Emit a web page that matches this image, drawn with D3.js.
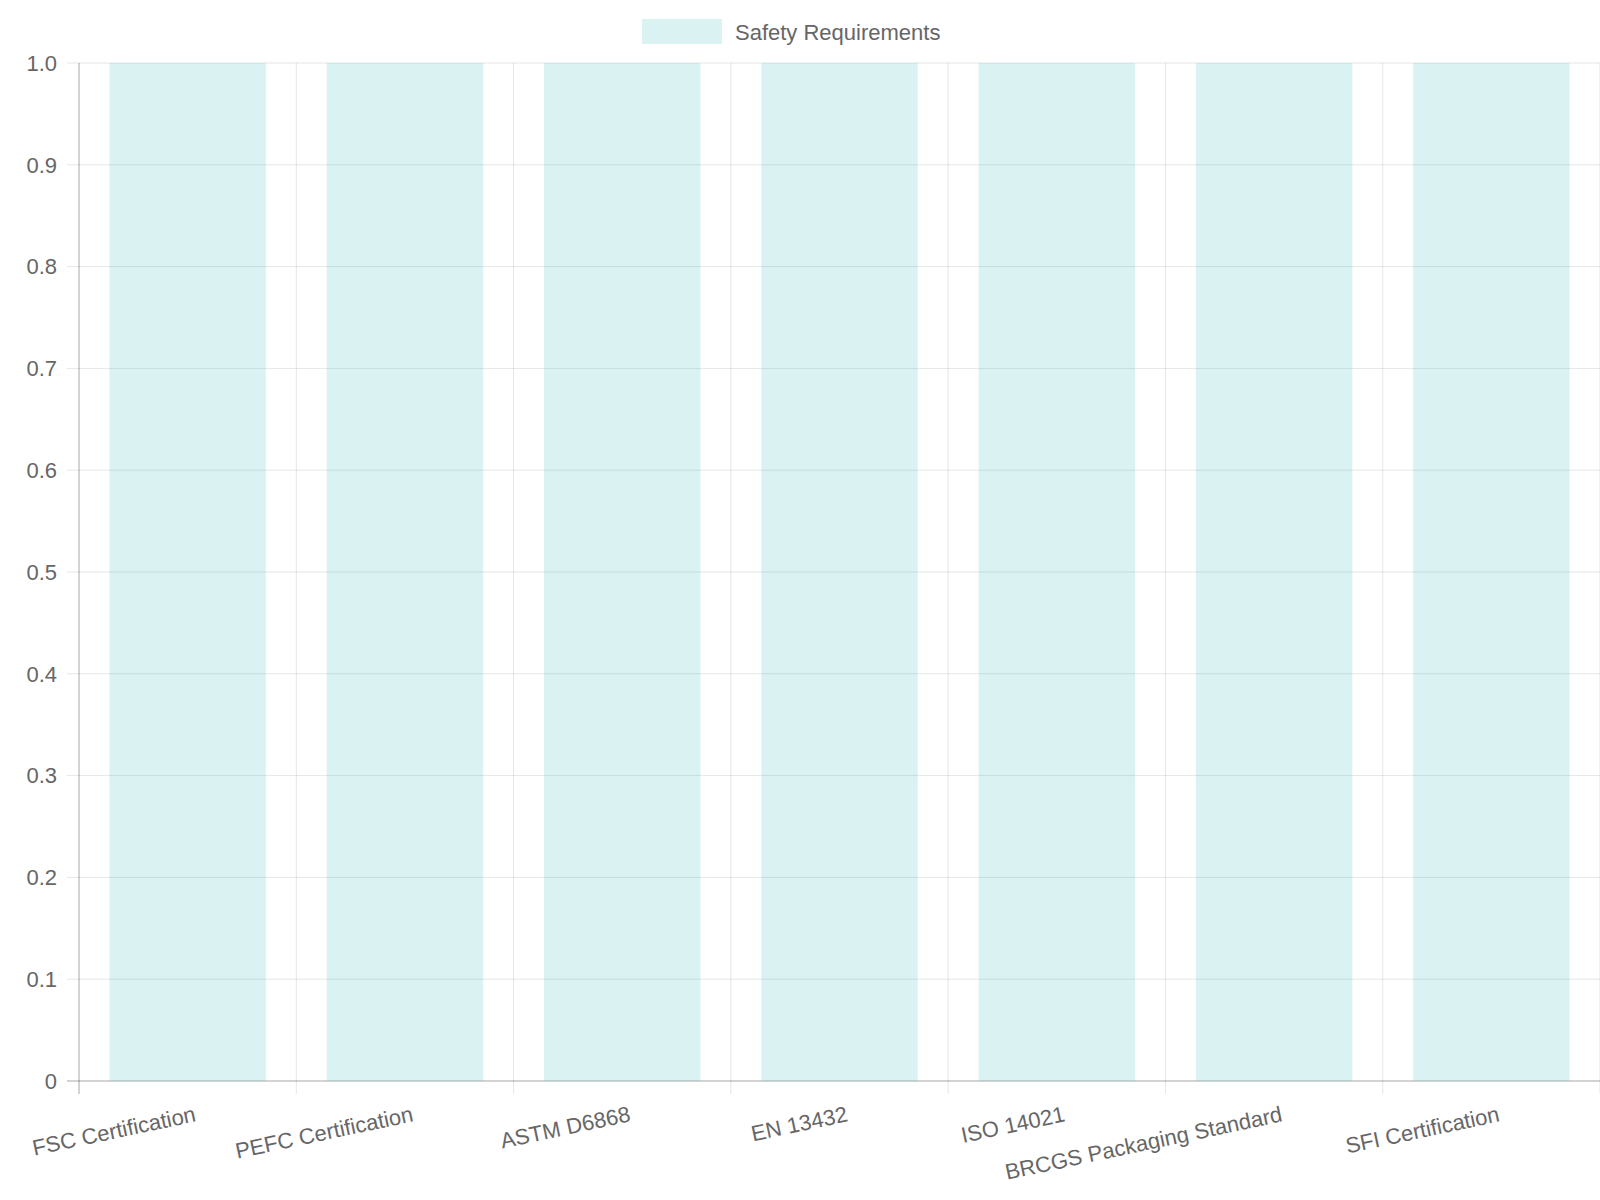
<!DOCTYPE html>
<html><head><meta charset="utf-8">
<script src="https://cdn.jsdelivr.net/npm/d3@7"></script>
<style>body{margin:0;background:#fff}svg{display:block}text{font-family:"Liberation Sans",Arial,sans-serif;fill:#666}</style>
</head><body>
<svg id="c" width="1600" height="1200"></svg>
<script>
const categories=["FSC Certification","PEFC Certification","ASTM D6868","EN 13432","ISO 14021","BRCGS Packaging Standard","SFI Certification"];
const values=[1,1,1,1,1,1,1];
const yTicks=[0,0.1,0.2,0.3,0.4,0.5,0.6,0.7,0.8,0.9,1.0];
const seriesName="Safety Requirements";

const svg=d3.select("#c");
const L=79,R=1600,T=63,B=1081;
const x=d3.scaleBand().domain(categories).range([L,R]).paddingInner(0).paddingOuter(0);
const y=d3.scaleLinear().domain([0,1]).range([B,T]);
const grid="rgba(0,0,0,0.1)";
const fill="rgba(75,192,192,0.2)";

svg.selectAll(".hg").data(yTicks).join("line").attr("x1",67).attr("x2",R).attr("y1",d=>y(d)).attr("y2",d=>y(d)).attr("stroke",grid);
const bounds=categories.map(c=>x(c)).concat([R]);
svg.selectAll(".vg").data(bounds).join("line").attr("x1",d=>d).attr("x2",d=>d).attr("y1",T).attr("y2",B+13).attr("stroke",grid);
svg.append("line").attr("x1",L).attr("x2",L).attr("y1",T).attr("y2",B+13).attr("stroke","rgba(0,0,0,0.25)");
svg.append("line").attr("x1",67).attr("x2",R).attr("y1",B).attr("y2",B).attr("stroke","rgba(0,0,0,0.25)");

const bw=x.bandwidth()*0.72;
svg.selectAll(".bar").data(categories).join("rect")
 .attr("x",(d)=>x(d)+x.bandwidth()/2-bw/2).attr("width",bw)
 .attr("y",(d,i)=>y(values[i])).attr("height",(d,i)=>y(0)-y(values[i])).attr("fill",fill);

svg.selectAll(".yl").data(yTicks).join("text").attr("x",57).attr("y",d=>y(d)).attr("dy","0.35em")
 .attr("text-anchor","end").style("font-size","22px").text(d=>d===0?"0":d.toFixed(1));

svg.selectAll(".xl").data(categories).join("text")
 .attr("transform",d=>`translate(${x(d)+x.bandwidth()/2+6},${1106}) rotate(-12)`)
 .attr("text-anchor","end").attr("dy","0.7em").style("font-size","22px").text(d=>d);

svg.append("rect").attr("x",642).attr("y",19).attr("width",80).attr("height",25).attr("fill",fill);
svg.append("text").attr("x",735).attr("y",32).attr("dy","0.35em").style("font-size","22px").text(seriesName);
</script>
</body></html>
